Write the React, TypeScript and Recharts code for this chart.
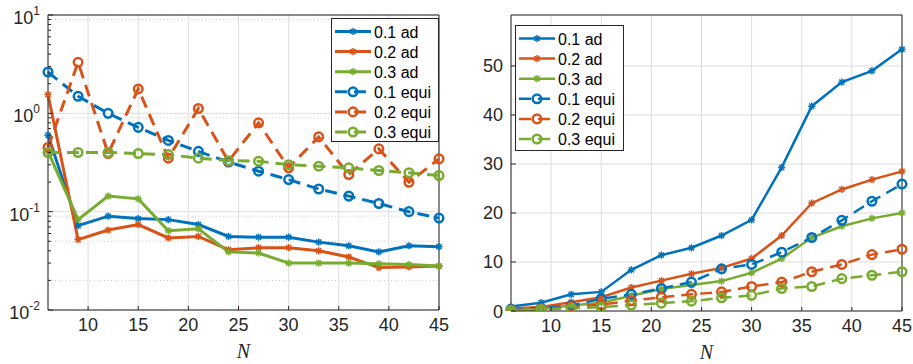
import React from 'react';
import { LineChart, Line, XAxis, YAxis, CartesianGrid, ReferenceLine, Legend } from 'recharts';

// grid sizes N
const nValues = [6, 9, 12, 15, 18, 21, 24, 27, 30, 33, 36, 39, 42, 45];

// left panel (log scale)
const errAd01 = [0.6, 0.072, 0.09, 0.085, 0.083, 0.074, 0.056, 0.055, 0.055, 0.049, 0.045, 0.039, 0.045, 0.044];
const errAd02 = [1.55, 0.052, 0.065, 0.074, 0.054, 0.056, 0.041, 0.043, 0.043, 0.04, 0.0346, 0.027, 0.0274, 0.028];
const errAd03 = [0.41, 0.083, 0.144, 0.135, 0.064, 0.067, 0.039, 0.038, 0.03, 0.03, 0.03, 0.0295, 0.029, 0.028];
const errEqui01 = [2.63, 1.49, 1.0, 0.72, 0.53, 0.41, 0.32, 0.258, 0.212, 0.17, 0.144, 0.121, 0.1, 0.086];
const errEqui02 = [0.45, 3.3, 0.39, 1.77, 0.35, 1.12, 0.326, 0.8, 0.279, 0.576, 0.239, 0.435, 0.199, 0.344];
const errEqui03 = [0.4, 0.4, 0.4, 0.39, 0.38, 0.35, 0.33, 0.326, 0.3, 0.29, 0.279, 0.262, 0.249, 0.233];

// right panel (linear)
const valAd01 = [0.9, 1.7, 3.4, 3.9, 8.4, 11.4, 12.9, 15.4, 18.6, 29.3, 41.8, 46.7, 49.0, 53.4];
const valAd02 = [0.5, 0.8, 1.8, 2.8, 4.8, 6.2, 7.6, 8.8, 10.7, 15.4, 22.0, 24.8, 26.8, 28.5];
const valAd03 = [0.2, 0.4, 1.1, 1.7, 3.1, 4.5, 5.3, 6.1, 7.8, 10.7, 15.0, 17.3, 18.9, 20.0];
const valEqui01 = [0.3, 0.6, 1.1, 2.5, 3.4, 4.6, 5.9, 8.6, 9.5, 12.0, 15.0, 18.5, 22.4, 25.9];
const valEqui02 = [0.2, 0.4, 0.8, 1.3, 2.1, 2.8, 3.4, 3.9, 5.0, 5.9, 8.0, 9.5, 11.5, 12.6];
const valEqui03 = [0.1, 0.3, 0.55, 0.8, 1.2, 1.6, 2.0, 2.7, 3.2, 4.6, 5.0, 6.6, 7.3, 8.0];

const xTicks = [10, 15, 20, 25, 30, 35, 40, 45];
const logMajor = [0.01, 0.1, 1, 10];
const logMinor = [2, 3, 4, 5, 6, 7, 8, 9].flatMap((m) => [m * 0.01, m * 0.1, m]);
const linTicks = [0, 10, 20, 30, 40, 50];

const BLUE = '#0072BD';
const ORANGE = '#D95319';
const GREEN = '#77AC30';
const AXIS = '#262626';
const FONT = 'Liberation Sans, Arial, Helvetica, sans-serif';
const DASH = '12 7';

const series = [
  { key: 'ad01', name: '0.1 ad', color: BLUE, dashed: false },
  { key: 'ad02', name: '0.2 ad', color: ORANGE, dashed: false },
  { key: 'ad03', name: '0.3 ad', color: GREEN, dashed: false },
  { key: 'equi01', name: '0.1 equi', color: BLUE, dashed: true },
  { key: 'equi02', name: '0.2 equi', color: ORANGE, dashed: true },
  { key: 'equi03', name: '0.3 equi', color: GREEN, dashed: true },
];

const leftData = nValues.map((n, i) => ({
  n,
  ad01: errAd01[i], ad02: errAd02[i], ad03: errAd03[i],
  equi01: errEqui01[i], equi02: errEqui02[i], equi03: errEqui03[i],
}));

const rightData = nValues.map((n, i) => ({
  n,
  ad01: valAd01[i], ad02: valAd02[i], ad03: valAd03[i],
  equi01: valEqui01[i], equi02: valEqui02[i], equi03: valEqui03[i],
}));

const TICK_MARGIN = 8;

const Marker = ({ cx, cy, color, dashed }: any) => {
  if (cx == null || cy == null) return <g />;
  if (dashed) {
    return <circle cx={cx} cy={cy} r={4.3} fill="none" stroke={color} strokeWidth={2.5} strokeDasharray="none" />;
  }
  const r = 3.6;
  const d = r * 0.72;
  return (
    <g stroke={color} strokeWidth={1.5} strokeDasharray="none">
      <line x1={cx - r} y1={cy} x2={cx + r} y2={cy} />
      <line x1={cx} y1={cy - r} x2={cx} y2={cy + r} />
      <line x1={cx - d} y1={cy - d} x2={cx + d} y2={cy + d} />
      <line x1={cx - d} y1={cy + d} x2={cx + d} y2={cy - d} />
    </g>
  );
};

const XTick = ({ x, y, payload }: any) => {
  const ay = y - TICK_MARGIN;
  return (
    <g>
      <line x1={x} x2={x} y1={ay} y2={ay - 4} stroke={AXIS} />
      <text x={x} y={y + 13} textAnchor="middle" fontSize={18} fontFamily={FONT} fill={AXIS}>
        {payload.value}
      </text>
    </g>
  );
};

const LogTick = ({ x, y, payload }: any) => {
  const lg = Math.log10(payload.value);
  const exp = Math.round(lg);
  const major = Math.abs(lg - exp) < 1e-6;
  const ax = x + TICK_MARGIN;
  return (
    <g>
      <line x1={ax} x2={ax + (major ? 5 : 3)} y1={y} y2={y} stroke={AXIS} />
      {major && (
        <text x={x} y={y + 9} textAnchor="end" fontSize={18} fontFamily={FONT} fill={AXIS}>
          <tspan>10</tspan>
          <tspan dy={-9} fontSize={12}>{exp}</tspan>
        </text>
      )}
    </g>
  );
};

const LinTick = ({ x, y, payload }: any) => {
  const ax = x + TICK_MARGIN;
  return (
    <g>
      <line x1={ax} x2={ax + 5} y1={y} y2={y} stroke={AXIS} />
      <text x={x} y={y + 6.5} textAnchor="end" fontSize={18} fontFamily={FONT} fill={AXIS}>
        {payload.value}
      </text>
    </g>
  );
};

const NLabel = ({ viewBox }: any) => (
  <text
    x={viewBox.x + viewBox.width / 2}
    y={viewBox.y + 48}
    textAnchor="middle"
    fontSize={20}
    fontStyle="italic"
    fontFamily="Liberation Serif, Times New Roman, serif"
    fill={AXIS}
  >
    N
  </text>
);

const legendBox = (w: number, h: number, lw: number) => () => (
  <svg width={w} height={h} style={{ display: 'block' }}>
    <rect x={0.5} y={0.5} width={w - 1} height={h - 1} fill="#fff" stroke={AXIS} />
    {series.map((s, i) => {
      const cy = 13.5 + i * 20.1;
      return (
        <g key={s.key}>
          <line x1={4} x2={40} y1={cy} y2={cy} stroke={s.color} strokeWidth={lw}
            strokeDasharray={s.dashed ? DASH : undefined} />
          <Marker cx={22} cy={cy} color={s.color} dashed={s.dashed} />
          <text x={43} y={cy + 6} fontSize={16} fontFamily={FONT} fill="#000">{s.name}</text>
        </g>
      );
    })}
  </svg>
);

const renderLines = (lw: number) =>
  series.map((s) => (
    <Line
      key={s.key}
      dataKey={s.key}
      name={s.name}
      stroke={s.color}
      strokeWidth={lw}
      strokeDasharray={s.dashed ? DASH : undefined}
      isAnimationActive={false}
      dot={(p: any) => <Marker key={`${s.key}-${p.index}`} cx={p.cx} cy={p.cy} color={s.color} dashed={s.dashed} />}
      activeDot={false}
    />
  ));

const App: React.FC = () => {
  return (
    <div style={{ position: 'absolute', left: 0, top: 0, width: 913, height: 364, background: '#fff' }}>
      <div style={{ position: 'absolute', left: 0, top: 0 }}>
        <LineChart width={450} height={364} data={leftData} margin={{ top: 15, right: 11, bottom: 24, left: 0 }}>
          <YAxis yAxisId="gmaj" hide type="number" scale="log" domain={[0.01, 10]} ticks={logMajor} allowDataOverflow />
          <YAxis yAxisId="gmin" hide type="number" scale="log" domain={[0.01, 10]} ticks={logMinor} allowDataOverflow />
          <CartesianGrid yAxisId="gmin" vertical={false} stroke="#c8c8c8" strokeDasharray="1 2.5" />
          <CartesianGrid yAxisId="gmaj" stroke="#dedede" />
          <XAxis dataKey="n" type="number" domain={[6, 45]} ticks={xTicks} height={30}
            tickSize={0} tickMargin={TICK_MARGIN} tick={<XTick />} stroke={AXIS} label={<NLabel />} />
          <YAxis type="number" scale="log" domain={[0.01, 10]} ticks={[...logMajor, ...logMinor]} allowDataOverflow
            width={48} tickSize={0} tickMargin={TICK_MARGIN} tick={<LogTick />} stroke={AXIS} interval={0} />
          <ReferenceLine y={10} stroke={AXIS} />
          <ReferenceLine x={45} stroke={AXIS} />
          {renderLines(3)}
          <Legend content={legendBox(108, 124, 3)} layout="horizontal" verticalAlign="middle" align="center"
            wrapperStyle={{ left: 331, top: 18, width: 108, height: 124 }} />
        </LineChart>
      </div>
      <div style={{ position: 'absolute', left: 460, top: 0 }}>
        <LineChart width={453} height={364} data={rightData} margin={{ top: 15, right: 11, bottom: 23, left: 0 }}>
          <CartesianGrid stroke="#dedede" />
          <XAxis dataKey="n" type="number" domain={[6, 45]} ticks={xTicks} height={30}
            tickSize={0} tickMargin={TICK_MARGIN} tick={<XTick />} stroke={AXIS} label={<NLabel />} />
          <YAxis type="number" domain={[0, 60.4]} ticks={linTicks} allowDataOverflow width={51}
            tickSize={0} tickMargin={TICK_MARGIN} tick={<LinTick />} stroke={AXIS} />
          <ReferenceLine y={60.4} stroke={AXIS} />
          <ReferenceLine x={45} stroke={AXIS} />
          {renderLines(2.5)}
          <Legend content={legendBox(109, 126, 2.5)} layout="horizontal" verticalAlign="middle" align="center"
            wrapperStyle={{ left: 55, top: 25, width: 109, height: 126 }} />
        </LineChart>
      </div>
    </div>
  );
};

export default App;
